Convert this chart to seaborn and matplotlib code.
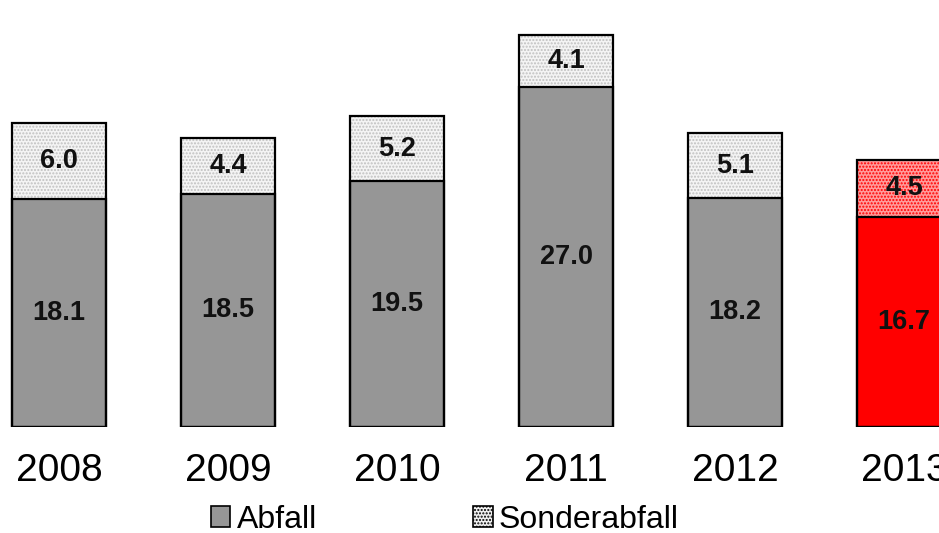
import matplotlib
matplotlib.use("Agg")
import matplotlib.pyplot as plt
from matplotlib.patches import Patch
from matplotlib.colors import to_rgba
import seaborn as sns
import pandas as pd
import numpy as np

years = ["2008", "2009", "2010", "2011", "2012", "2013"]
abfall = [18.1, 18.5, 19.5, 27.0, 18.2, 16.7]
sonderabfall = [6.0, 4.4, 5.2, 4.1, 5.1, 4.5]

base_colors = ["#969696"] * 5 + ["#ff0000"]
top_face = ["#f4f4f4"] * 5 + ["#ff9c9c"]
top_hatch = ["#c0c0c0"] * 5 + ["#ff0000"]

df = pd.DataFrame({"Jahr": years, "Abfall": abfall, "Sonderabfall": sonderabfall})
df["Gesamt"] = df["Abfall"] + df["Sonderabfall"]

sns.set_theme(style="white")
plt.rcParams["font.family"] = ["Liberation Sans", "DejaVu Sans"]
plt.rcParams["hatch.linewidth"] = 1.0
plt.rcParams["text.color"] = "black"

fig = plt.figure(figsize=(9.39, 5.33), dpi=100)
ax = fig.add_axes([0, 106 / 533, 1, 427 / 533])

bw = 0.56
# stacked look: total bar (dotted) underneath, Abfall drawn on top of it
sns.barplot(data=df, x="Jahr", y="Gesamt", hue="Jahr", palette=top_face,
            legend=False, width=bw, linewidth=0, ax=ax, saturation=1)
top_patches = list(ax.patches)
for p, hc in zip(top_patches, top_hatch):
    p.set_hatch(".....")
    p._hatch_color = to_rgba(hc)

sns.barplot(data=df, x="Jahr", y="Abfall", hue="Jahr", palette=base_colors,
            legend=False, width=bw, edgecolor="black", linewidth=1.6, ax=ax,
            saturation=1)

# outline of full stack
x = np.arange(len(years))
ax.bar(x, df["Gesamt"], width=bw, fill=False, edgecolor="black", linewidth=1.6)

for i in range(len(years)):
    ax.text(x[i], abfall[i] / 2, f"{abfall[i]:.1f}", ha="center", va="center",
            fontsize=19.5, fontweight="bold", color="#111111")
    ax.text(x[i], abfall[i] + sonderabfall[i] / 2, f"{sonderabfall[i]:.1f}",
            ha="center", va="center", fontsize=19.5, fontweight="bold",
            color="#111111")

ax.set_xlim(-59 / 169, (939 - 59) / 169)
ax.set_ylim(0, 427 / 12.6)
ax.set_xlabel("")
ax.set_ylabel("")
ax.set_yticks([])
ax.tick_params(axis="x", length=0, pad=19, labelsize=28, labelcolor="black")
for s in ax.spines.values():
    s.set_visible(False)

handles = [
    Patch(facecolor="#969696", edgecolor="black", linewidth=1.2, label="Abfall"),
    Patch(facecolor="#f0f0f0", edgecolor="black", linewidth=1.2, hatch=".....",
          label="Sonderabfall"),
]
plt.rcParams["hatch.color"] = "#c4c4c4"
fig.legend(handles=handles, loc="center", bbox_to_anchor=(0.474, 0.025),
           ncol=2, frameon=False, fontsize=23, handlelength=0.6,
           handleheight=0.6, handletextpad=0.2, columnspacing=4.9,
           labelcolor="black")

fig.savefig("out.png", dpi=100)
